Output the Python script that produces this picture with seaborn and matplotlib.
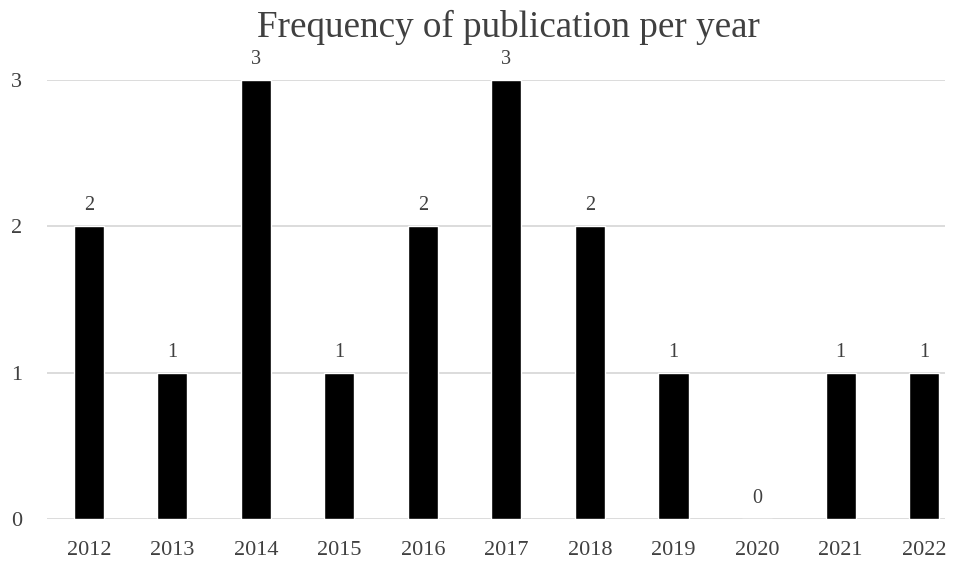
import matplotlib
matplotlib.use("Agg")
import matplotlib.pyplot as plt
import seaborn as sns
import pandas as pd

years = ["2012", "2013", "2014", "2015", "2016", "2017", "2018", "2019", "2020", "2021", "2022"]
counts = [2, 1, 3, 1, 2, 3, 2, 1, 0, 1, 1]

df = pd.DataFrame({"year": years, "count": counts})

sns.set_theme(style="white")
plt.rcParams['font.family'] = ['Liberation Serif', 'DejaVu Serif']

fig = plt.figure(figsize=(9.55, 5.65), dpi=100)
ax = fig.add_axes([47/955, 46/565, (945-47)/955, (519-80)/565])

sns.barplot(data=df, x="year", y="count", color="black", width=0.36,
            saturation=1, ax=ax)

ax.set_xlim(-0.5, 10.25)
ax.set_ylim(0, 3)
ax.set_yticks([0, 1, 2, 3])
ax.yaxis.grid(True, color="#d9d9d9", linewidth=1.3)
ax.set_axisbelow(True)
for s in ax.spines.values():
    s.set_visible(False)
ax.tick_params(axis="both", length=0, labelsize=16, labelcolor="#404040")
ax.tick_params(axis="y", pad=18)
ax.tick_params(axis="x", pad=16)
ax.set_xlabel("")
ax.set_ylabel("")

for i, v in enumerate(counts):
    ax.annotate(str(v), (i, v), xytext=(0, 8), textcoords="offset points",
                ha="center", va="bottom", fontsize=14.5, color="#404040")

fig.text(508/955, 0.952, "Frequency of publication per year", ha="center", va="center",
         fontsize=26.7, color="#404040")

fig.savefig("out.png", dpi=100)
